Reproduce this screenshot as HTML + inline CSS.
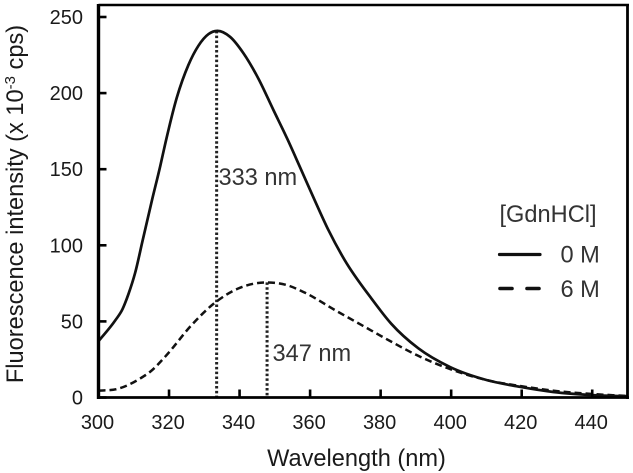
<!DOCTYPE html>
<html>
<head>
<meta charset="utf-8">
<style>
html,body{margin:0;padding:0;background:#fff;width:633px;height:473px;overflow:hidden}
svg{display:block;font-family:"Liberation Sans",Arial,sans-serif}
text{fill:#1a1a1a}
</style>
</head>
<body>
<svg id="chart" width="633" height="473" viewBox="0 0 633 473" xmlns="http://www.w3.org/2000/svg">
<rect width="633" height="473" fill="#fff"/>
<g id="marks"></g>
<g id="frame"></g>
<g id="ticks"></g>
<text x="356.5" y="466" font-size="23.6" text-anchor="middle">Wavelength (nm)</text>
<text transform="translate(23,204) rotate(-90)" font-size="23.6" text-anchor="middle">Fluorescence intensity (x 10<tspan dy="-8" font-size="15">-3</tspan><tspan dy="8"> cps)</tspan></text>
<text x="218.5" y="185" font-size="23.6" style="fill:#333">333 nm</text>
<text x="272.5" y="361" font-size="23.6" style="fill:#333">347 nm</text>
<text x="499.5" y="222" font-size="23.6" style="fill:#333">[GdnHCl]</text>
<line x1="499.5" y1="254.5" x2="540" y2="254.5" stroke="#111" stroke-width="3.2" stroke-linecap="round"/>
<text x="560.5" y="262.5" font-size="23.6" style="fill:#333">0 M</text>
<line x1="500" y1="288.5" x2="539" y2="288.5" stroke="#111" stroke-width="3.6" stroke-dasharray="12 15" stroke-linecap="round"/>
<text x="560.5" y="297" font-size="23.6" style="fill:#333">6 M</text>
</svg>
<script>
const xTicks = [300, 320, 340, 360, 380, 400, 420, 440];
const yTicks = [0, 50, 100, 150, 200, 250];
const wavelengths0M = [300, 304.7, 306.8, 308.5, 310.4, 312.5, 315.1, 317.5, 319, 322.2, 325.5, 328.3, 331.2, 333.7, 337.3, 341.1, 345.3, 349.6, 353.6, 357.2, 361.5, 365.2, 369.8, 377.4, 383, 390.7, 399.7, 410, 419.5, 429, 440, 450];
const values0M = [37, 50.5, 58, 68, 82, 103, 129, 152, 167.5, 197, 218.5, 231, 238.8, 240.9, 237, 226.2, 209.7, 188.9, 169.6, 151, 128.6, 110, 90.3, 65, 48.5, 32.3, 20, 11.5, 7, 3.6, 1.6, 0.8];
const wavelengths6M = [300, 305.3, 311.9, 314.7, 318.9, 326.4, 332.6, 339.7, 348, 353.3, 358.5, 367, 374.6, 383, 390.2, 400.5, 410, 420, 430, 440, 450];
const values6M = [4.5, 5.6, 12.6, 17, 26.8, 47.6, 61.5, 71.7, 75.6, 73.9, 68.9, 57.5, 47.6, 36.7, 27.9, 18, 11.5, 7.4, 4.2, 2.3, 1];
const peakWavelengths = [333.5, 347.8];
const peakValues = [240.9, 75.6];

const NS = 'http://www.w3.org/2000/svg';
const xDomain = [300, 450], xRange = [98.5, 627.5];
const yDomain = [0, 250], yRange = [397.5, 17];
function xScale(v){ return xRange[0] + (v - xDomain[0]) * (xRange[1] - xRange[0]) / (xDomain[1] - xDomain[0]); }
function yScale(v){ return yRange[0] + (v - yDomain[0]) * (yRange[1] - yRange[0]) / (yDomain[1] - yDomain[0]); }
function make(tag, attrs, parent){
  const el = document.createElementNS(NS, tag);
  for (const k in attrs) el.setAttribute(k, attrs[k]);
  parent.appendChild(el);
  return el;
}
function smoothPath(xs, ys){
  const p = xs.map((x, i) => [xScale(x), yScale(ys[i])]);
  const n = p.length, h = [], d = [], m = [];
  for (let i = 0; i < n - 1; i++){
    h.push(p[i + 1][0] - p[i][0]);
    d.push((p[i + 1][1] - p[i][1]) / h[i]);
  }
  m.push(d[0]);
  for (let i = 1; i < n - 1; i++){
    m.push((d[i - 1] * h[i] + d[i] * h[i - 1]) / (h[i - 1] + h[i]));
  }
  m.push(d[n - 2]);
  let path = 'M' + p[0][0].toFixed(2) + ' ' + p[0][1].toFixed(2);
  for (let i = 0; i < n - 1; i++){
    const c1x = p[i][0] + h[i] / 3, c1y = p[i][1] + m[i] * h[i] / 3;
    const c2x = p[i + 1][0] - h[i] / 3, c2y = p[i + 1][1] - m[i + 1] * h[i] / 3;
    path += 'C' + [c1x, c1y, c2x, c2y, p[i + 1][0], p[i + 1][1]].map(v => v.toFixed(2)).join(' ');
  }
  return path;
}
const marks = document.getElementById('marks');
const frame = document.getElementById('frame');
const ticks = document.getElementById('ticks');

peakWavelengths.forEach((w, i) => {
  const el = make('line', {x1: xScale(w), x2: xScale(w), y1: yScale(peakValues[i]), y2: yScale(0), stroke: '#222', 'stroke-width': 3, 'stroke-dasharray': '2.5 2.3'}, marks);
  
  
});
const line6 = make('path', {d: smoothPath(wavelengths6M, values6M), fill: 'none', stroke: '#111', 'stroke-width': 2.5, 'stroke-dasharray': '7 4'}, marks);


const line0 = make('path', {d: smoothPath(wavelengths0M, values0M), fill: 'none', stroke: '#111', 'stroke-width': 2.7}, marks);



const topY = 5;
const leftAxis = make('line', {x1: xRange[0], x2: xRange[0], y1: topY - 1, y2: yScale(0) + 1.5, stroke: '#000', 'stroke-width': 3.4}, frame);


const bottomAxis = make('line', {x1: xRange[0], x2: xRange[1] + 1.5, y1: yScale(0), y2: yScale(0), stroke: '#000', 'stroke-width': 2.7}, frame);


const topAxis = make('line', {x1: xRange[0], x2: xRange[1] + 1.5, y1: topY, y2: topY, stroke: '#000', 'stroke-width': 2.4}, frame);


const rightAxis = make('line', {x1: xRange[1], x2: xRange[1], y1: topY - 1, y2: yScale(0) + 1.5, stroke: '#000', 'stroke-width': 2.8}, frame);



xTicks.forEach(v => {
  const t = make('line', {x1: xScale(v), x2: xScale(v), y1: yScale(0), y2: yScale(0) - 8, stroke: '#000', 'stroke-width': 2.6}, ticks);
  
  
  const l = make('text', {x: xScale(v) - 1, y: 429, 'font-size': 20, 'text-anchor': 'middle'}, ticks);
  
  
  l.textContent = v;
});
yTicks.forEach(v => {
  const t = make('line', {x1: xRange[0], x2: xRange[0] + 8, y1: yScale(v), y2: yScale(v), stroke: '#000', 'stroke-width': 2.6}, ticks);
  
  
  const l = make('text', {x: 83, y: yScale(v) + 7, 'font-size': 20, 'text-anchor': 'end'}, ticks);
  
  
  l.textContent = v;
});
</script>
</body>
</html>
